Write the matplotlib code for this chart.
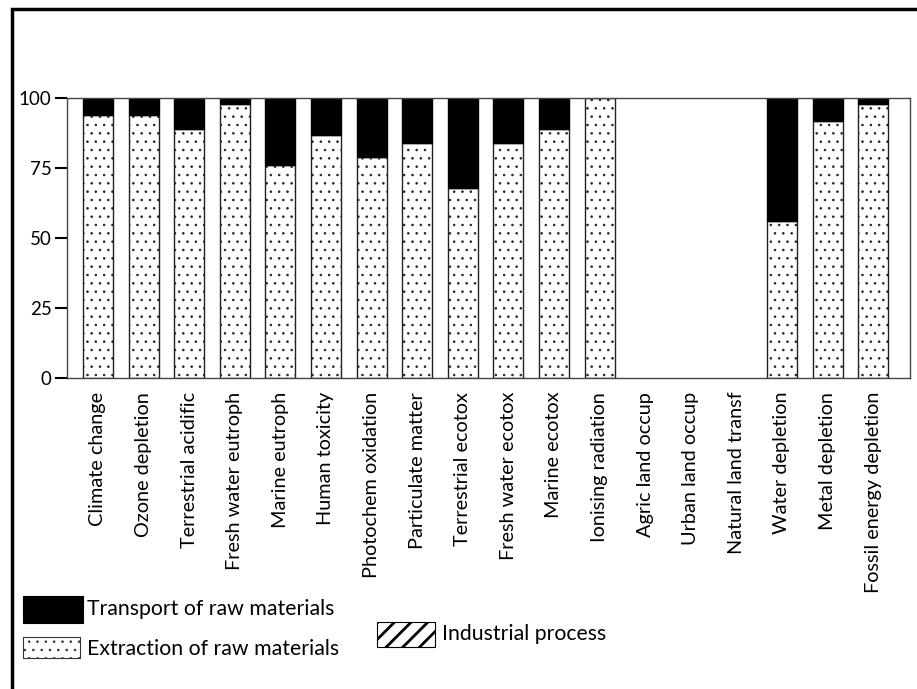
import matplotlib
matplotlib.use("Agg")
import matplotlib.pyplot as plt
from matplotlib.patches import Rectangle
import numpy as np

plt.rcParams['font.family'] = ['Lato', 'DejaVu Sans']
plt.rcParams['hatch.linewidth'] = 0.6

categories = ["Climate change", "Ozone depletion", "Terrestrial acidific", "Fresh water eutroph",
              "Marine eutroph", "Human toxicity", "Photochem oxidation", "Particulate matter",
              "Terrestrial ecotox", "Fresh water ecotox", "Marine ecotox", "Ionising radiation",
              "Agric land occup", "Urban land occup", "Natural land transf", "Water depletion",
              "Metal depletion", "Fossil energy depletion"]
extraction = [94, 94, 89, 98, 76, 87, 79, 84, 68, 84, 89, 100, 0, 0, 0, 56, 92, 98]
transport = [6, 6, 11, 2, 24, 13, 21, 16, 32, 16, 11, 0, 0, 0, 0, 44, 8, 2]
industrial = [0] * 18
yticks = [0, 25, 50, 75, 100]

fig = plt.figure(figsize=(9.17, 6.89), dpi=100)
ax = fig.add_axes([0.073, 0.4514, 0.919, 0.4059])

x = np.arange(len(categories))
w = 0.66
ext = np.array(extraction)
tr = np.array(transport)
ind = np.array(industrial)

def stack(vals, bottom, **kw):
    # only draw segments that have a height, so empty ones leave no edge line
    m = vals > 0
    if m.any():
        ax.bar(x[m], vals[m], w, bottom=bottom[m], linewidth=1.0, **kw)

stack(ext, np.zeros(len(x)), color='white', edgecolor='#222222', hatch='..')
stack(tr, ext, color='black', edgecolor='black')
stack(ind, ext + tr, color='white', edgecolor='black', hatch='//')

ax.set_xlim(-0.68, 17.8)
ax.set_ylim(0, 100)
ax.set_yticks(yticks)
ax.set_yticklabels([str(v) for v in yticks], fontsize=13.5)
ax.set_xticks(x)
ax.set_xticklabels(categories, rotation=90, fontsize=14.3)
ax.tick_params(axis='x', length=0, pad=10)
ax.tick_params(axis='y', length=9, width=1.5, direction='out', pad=2)
for s in ax.spines.values():
    s.set_color('#444444')
    s.set_linewidth(1.0)

# legend drawn by hand (pixel positions)
def legend_item(x0, y0, wd, ht, label, tx, ty, hatch_lw=None, **kw):
    r = Rectangle((x0 / 917, 1 - (y0 + ht) / 689), wd / 917, ht / 689,
                  transform=fig.transFigure, linewidth=0.8, **kw)
    if hatch_lw is not None and hasattr(r, 'set_hatch_linewidth'):
        r.set_hatch_linewidth(hatch_lw)
    fig.add_artist(r)
    fig.text(tx / 917, 1 - ty / 689, label, fontsize=15.3, va='center', ha='left')

legend_item(23, 596, 60, 27, "Transport of raw materials", 87, 609, facecolor='black', edgecolor='black')
legend_item(23, 637, 57, 21, "Extraction of raw materials", 87, 649, facecolor='white', edgecolor='#333333', hatch='..')
legend_item(377, 622, 58, 25, "Industrial process", 442, 634, hatch_lw=2.0,
            facecolor='white', edgecolor='black', hatch='//')

# outer frame (only left and top edges fall inside the image)
fig.add_artist(Rectangle((11.5 / 917, -0.02), 1.05, 1.02 - 8.5 / 689, transform=fig.transFigure,
                         fill=False, edgecolor='black', linewidth=2.5))

fig.savefig("out.png", dpi=100)
